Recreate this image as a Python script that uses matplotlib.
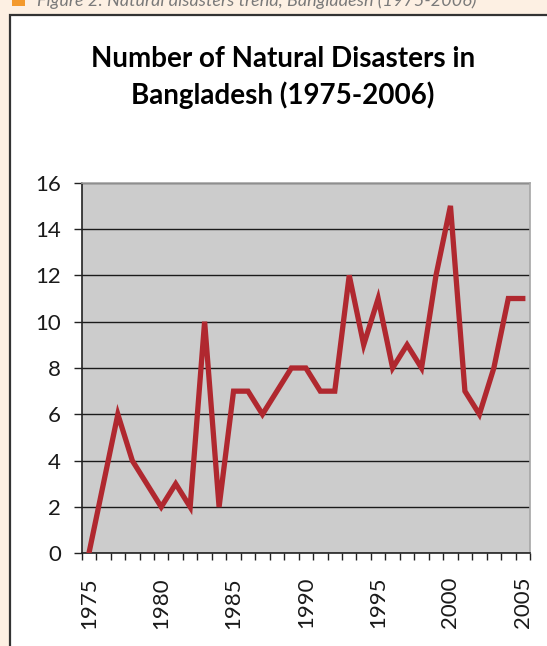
import numpy as np
import matplotlib.pyplot as plt
from matplotlib.patches import Rectangle
from matplotlib.ticker import FixedLocator, NullFormatter

# Number of natural disasters per year
years = list(range(1975, 2006))
disasters = [0, 3, 6, 4, 3, 2, 3, 2, 10, 2,
             7, 7, 6, 7, 8, 8, 7, 7, 12, 9,
             11, 8, 9, 8, 12, 15, 7, 6, 8, 11, 11]
year_labels = ['1975', '1980', '1985', '1990', '1995', '2000', '2005']
y_ticks = [0, 2, 4, 6, 8, 10, 12, 14, 16]

title = 'Number of Natural Disasters in\nBangladesh (1975-2006)'
caption = 'Figure 2: Natural disasters trend, Bangladesh (1975-2006)'

W, H = 547, 646
fig = plt.figure(figsize=(W / 100, H / 100), dpi=100, facecolor='#fdf0e3')

# white panel with dark frame (runs off the right and bottom edges)
panel = Rectangle((10 / W, -0.1), 1.2, (H - 15) / H + 0.1,
                  transform=fig.transFigure, facecolor='white',
                  edgecolor='#333333', linewidth=1.6, zorder=-5)
fig.add_artist(panel)
# caption cut off at the top, with orange square
fig.add_artist(Rectangle((12 / W, (H - 6) / H), 13 / W, 10 / H,
                         transform=fig.transFigure, facecolor='#f39a2e',
                         edgecolor='none', zorder=-4))
fig.text(37 / W, (H - 6) / H, caption, fontsize=13, style='italic',
         color='#7a7a7a', family='Lato', va='baseline', ha='left')

fig.text(283 / W, (H - 77.5) / H, title, fontsize=20, fontweight='bold',
         family='Lato', ha='center', va='center', linespacing=1.45)

ax = fig.add_axes([81.7 / W, 92.7 / H, 448.3 / W, 370.6 / H])
ax.set_facecolor('#cccccc')

x = np.arange(len(years))
ax.plot(x, disasters, color='#b0282f', linewidth=3.8, solid_joinstyle='miter',
        zorder=3)

ax.set_xlim(-0.5, len(years) - 0.5)
ax.set_ylim(0, 16)

ax.set_yticks(y_ticks)
ax.set_yticklabels([str(v) for v in y_ticks], family='Lato', fontsize=16,
                   color='#1a1a1a')
ax.yaxis.grid(True, color='#1a1a1a', linewidth=1.0)
ax.set_axisbelow(True)

label_pos = [years.index(int(l)) for l in year_labels]
ax.set_xticks(label_pos)
ax.set_xticklabels(year_labels, rotation=90, family='Lato', fontsize=16,
                   color='#1a1a1a')
ax.xaxis.set_minor_locator(FixedLocator(np.arange(len(years) + 1) - 0.5))
ax.xaxis.set_minor_formatter(NullFormatter())
ax.tick_params(axis='x', which='major', length=0, pad=17)
ax.tick_params(axis='x', which='minor', length=5, width=1, color='#222222')
ax.tick_params(axis='y', length=6, width=1, color='#222222', pad=9)

ax.spines['left'].set_color('#222222')
ax.spines['bottom'].set_color('#222222')
ax.spines['top'].set_color('#a6a6a6')
ax.spines['right'].set_color('#a6a6a6')
for s in ax.spines.values():
    s.set_linewidth(1.2)

fig.savefig('out.png', dpi=100, facecolor=fig.get_facecolor())
